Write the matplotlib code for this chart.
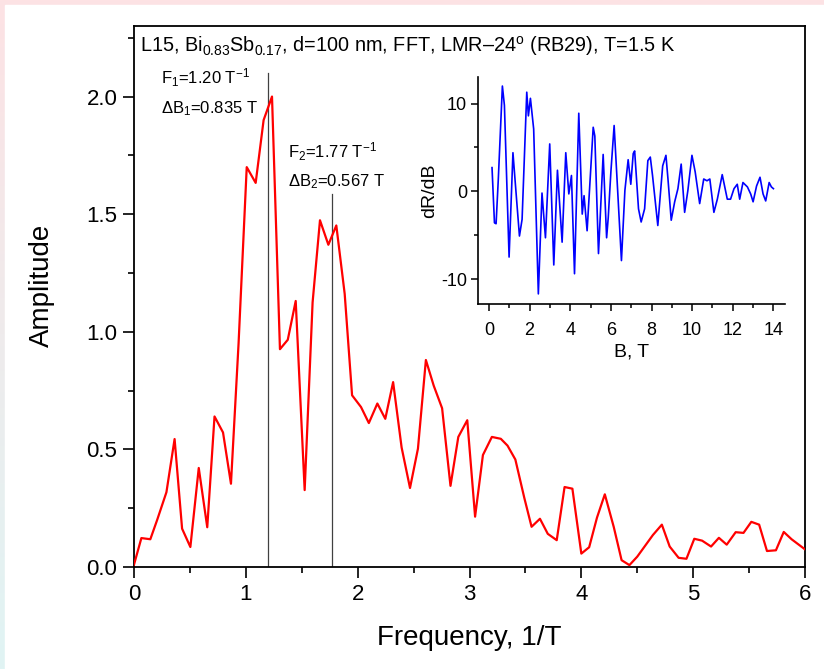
import matplotlib
matplotlib.use('Agg')
import matplotlib.pyplot as plt
import numpy as np
from matplotlib.patches import Rectangle

plt.rcParams['font.family'] = ['Liberation Sans', 'DejaVu Sans']
plt.rcParams['mathtext.fontset'] = 'custom'
plt.rcParams['mathtext.rm'] = 'Liberation Sans'
plt.rcParams['mathtext.it'] = 'Liberation Sans:italic'
plt.rcParams['axes.unicode_minus'] = False

# FFT spectrum (main panel)
freq = [0.0, 0.066, 0.146, 0.207, 0.29, 0.363, 0.43, 0.504, 0.579, 0.655,
        0.72, 0.796, 0.867, 0.935, 1.008, 1.088, 1.159, 1.234, 1.305, 1.375,
        1.446, 1.526, 1.597, 1.663, 1.738, 1.809, 1.884, 1.95, 2.03, 2.1,
        2.176, 2.247, 2.317, 2.393, 2.468, 2.539, 2.61, 2.68, 2.755, 2.83,
        2.9, 2.98, 3.05, 3.12, 3.2, 3.28, 3.34, 3.41, 3.49, 3.555,
        3.63, 3.70, 3.78, 3.85, 3.92, 4.0, 4.07, 4.14, 4.21, 4.29,
        4.36, 4.43, 4.5, 4.57, 4.64, 4.72, 4.79, 4.87, 4.94, 5.01,
        5.08, 5.16, 5.23, 5.30, 5.38, 5.45, 5.52, 5.59, 5.66, 5.74,
        5.81, 5.88, 6.0]
amp = [0.01, 0.123, 0.118, 0.2, 0.318, 0.544, 0.163, 0.085, 0.421, 0.169,
       0.64, 0.572, 0.354, 0.95, 1.70, 1.633, 1.90, 2.0, 0.926, 0.966,
       1.131, 0.327, 1.125, 1.474, 1.37, 1.452, 1.161, 0.73, 0.68, 0.612,
       0.695, 0.63, 0.786, 0.508, 0.336, 0.503, 0.88, 0.771, 0.675, 0.345,
       0.553, 0.624, 0.214, 0.476, 0.553, 0.545, 0.516, 0.457, 0.294, 0.171,
       0.205, 0.141, 0.114, 0.34, 0.333, 0.057, 0.084, 0.21, 0.309, 0.17,
       0.029, 0.008, 0.044, 0.09, 0.136, 0.18, 0.087, 0.039, 0.035, 0.12,
       0.112, 0.087, 0.124, 0.095, 0.148, 0.145, 0.192, 0.18, 0.068, 0.071,
       0.149, 0.118, 0.075]

# marked frequencies
peak_f = [1.20, 1.77]
peak_top = [2.10, 1.584]
peak_labels = [('F$\\mathregular{_1}$=1.20 T$\\mathregular{^{-1}}$', '\u0394B$\\mathregular{_1}$=0.835 T'),
               ('F$\\mathregular{_2}$=1.77 T$\\mathregular{^{-1}}$', '\u0394B$\\mathregular{_2}$=0.567 T')]

# dR/dB oscillations (inset)
field = [0.15, 0.27, 0.35, 0.46, 0.66, 0.76, 0.99, 1.18, 1.28, 1.50,
         1.63, 1.86, 1.94, 2.04, 2.20, 2.43, 2.61, 2.78, 2.99, 3.19,
         3.37, 3.60, 3.78, 3.93, 4.06, 4.21, 4.42, 4.59, 4.68, 4.83,
         5.13, 5.21, 5.39, 5.62, 5.79, 5.87, 6.00, 6.16, 6.52, 6.69,
         6.85, 6.98, 7.10, 7.17, 7.36, 7.49, 7.66, 7.82, 7.94, 8.05,
         8.31, 8.55, 8.71, 8.81, 8.97, 9.14, 9.30, 9.46, 9.63, 9.79,
         9.99, 10.15, 10.37, 10.57, 10.73, 10.87, 11.07, 11.24, 11.48, 11.73,
         11.89, 12.06, 12.22, 12.34, 12.50, 12.72, 12.88, 13.00, 13.17, 13.34,
         13.49, 13.62, 13.79, 13.90, 14.00]
dRdB = [2.7, -3.6, -3.7, 1.4, 12.0, 9.8, -7.5, 4.4, 1.4, -5.1,
        -3.2, 11.3, 8.6, 10.6, 7.1, -11.7, -0.2, -5.3, 5.4, -8.4,
        2.4, -5.8, 4.4, -0.3, 1.8, -9.4, 8.9, -2.6, -0.5, -4.5,
        7.3, 6.3, -7.1, 4.2, -5.3, -3.0, 2.2, 7.5, -7.9, 0.1,
        3.6, 0.8, 4.3, 4.6, -2.0, -3.5, -2.0, 3.5, 3.9, 1.8,
        -3.9, 2.9, 4.1, 1.4, -3.3, -1.2, 0.3, 3.1, -2.4, 0.1,
        4.1, 2.2, -1.4, 1.4, 1.2, 1.4, -2.4, -0.9, 1.9, -0.9,
        -0.9, 0.3, 0.8, -0.9, 1.0, 0.5, -0.3, -1.2, 0.6, 1.6,
        -0.3, -1.1, 1.0, 0.5, 0.3]

title_text = ('L15, Bi$\\mathregular{_{0.83}}$Sb$\\mathregular{_{0.17}}$, d=100 nm, FFT, '
              'LMR\u201324$\\mathregular{^o}$ (RB29), T=1.5 K')

fig = plt.figure(figsize=(8.24, 6.69), dpi=100)

# pale page background with white sheet
bg = fig.add_axes([0, 0, 1, 1], zorder=-10)
grad = np.linspace(0, 1, 256).reshape(-1, 1)
top_c = np.array([253, 226, 228]) / 255.0
bot_c = np.array([224, 244, 244]) / 255.0
img = top_c[None, None, :] * (1 - grad[:, :, None]) + bot_c[None, None, :] * grad[:, :, None]
bg.imshow(img, aspect='auto', extent=[0, 1, 0, 1])
bg.add_patch(Rectangle((5 / 824, 0), 1, 1 - 5 / 669, color='white'))
bg.set_xlim(0, 1)
bg.set_ylim(0, 1)
bg.axis('off')

ax = fig.add_axes([134 / 824, (669 - 567) / 669, 671 / 824, 541 / 669])
ax.plot(freq, amp, color='red', lw=1.6, zorder=3)
for f, top in zip(peak_f, peak_top):
    ax.plot([f, f], [0, top], color='#404040', lw=0.9, zorder=2)

ax.text(0.24, 2.08, peak_labels[0][0], fontsize=12, va='center', ha='left')
ax.text(0.24, 1.95, peak_labels[0][1], fontsize=12, va='center', ha='left')
ax.text(1.38, 1.765, peak_labels[1][0], fontsize=12, va='center', ha='left')
ax.text(1.38, 1.64, peak_labels[1][1], fontsize=12, va='center', ha='left')
ax.text(0.05, 2.215, title_text, fontsize=14.3, va='center', ha='left')

ax.set_xlim(0, 6)
ax.set_ylim(0, 2.3)
ax.set_xticks([0, 1, 2, 3, 4, 5, 6])
ax.set_xticks(np.arange(0.5, 6, 1), minor=True)
ax.set_yticks([0, 0.5, 1.0, 1.5, 2.0])
ax.set_yticks([0.25, 0.75, 1.25, 1.75, 2.25], minor=True)
ax.yaxis.set_major_formatter(plt.FormatStrFormatter('%.1f'))
ax.tick_params(which='major', direction='out', length=8, width=1.2, labelsize=16, pad=4)
ax.tick_params(which='minor', direction='out', length=4.5, width=1.2)
for s in ax.spines.values():
    s.set_linewidth(1.3)
ax.set_xlabel('Frequency, 1/T', fontsize=20)
ax.set_ylabel('Amplitude', fontsize=20)
ax.xaxis.set_label_coords(0.5, -0.131)
ax.yaxis.set_label_coords(-0.137, 0.521)
ax.xaxis.label.set_va('center')
ax.yaxis.label.set_va('center')

# inset
axi = fig.add_axes([478 / 824, (669 - 304) / 669, 307 / 824, 227 / 669])
axi.plot(field, dRdB, color='blue', lw=1.2)
axi.set_xlim(-0.54, 14.57)
axi.set_ylim(-12.85, 13.03)
axi.set_xticks(np.arange(0, 15, 2))
axi.set_xticks(np.arange(1, 15, 2), minor=True)
axi.set_yticks([-10, 0, 10])
axi.set_yticks([-5, 5], minor=True)
axi.spines['top'].set_visible(False)
axi.spines['right'].set_visible(False)
for s in ['left', 'bottom']:
    axi.spines[s].set_linewidth(1.2)
axi.patch.set_alpha(0)
axi.tick_params(axis='x', which='major', direction='out', length=5, width=1.1, labelsize=13, pad=8)
axi.tick_params(axis='y', which='major', direction='out', length=5, width=1.1, labelsize=13, pad=3)
axi.tick_params(which='minor', direction='out', length=3, width=1.1)
axi.set_xlabel('B, T', fontsize=14, labelpad=3)
axi.set_ylabel('dR/dB', fontsize=14, labelpad=2)

fig.savefig('out.png', dpi=100)
